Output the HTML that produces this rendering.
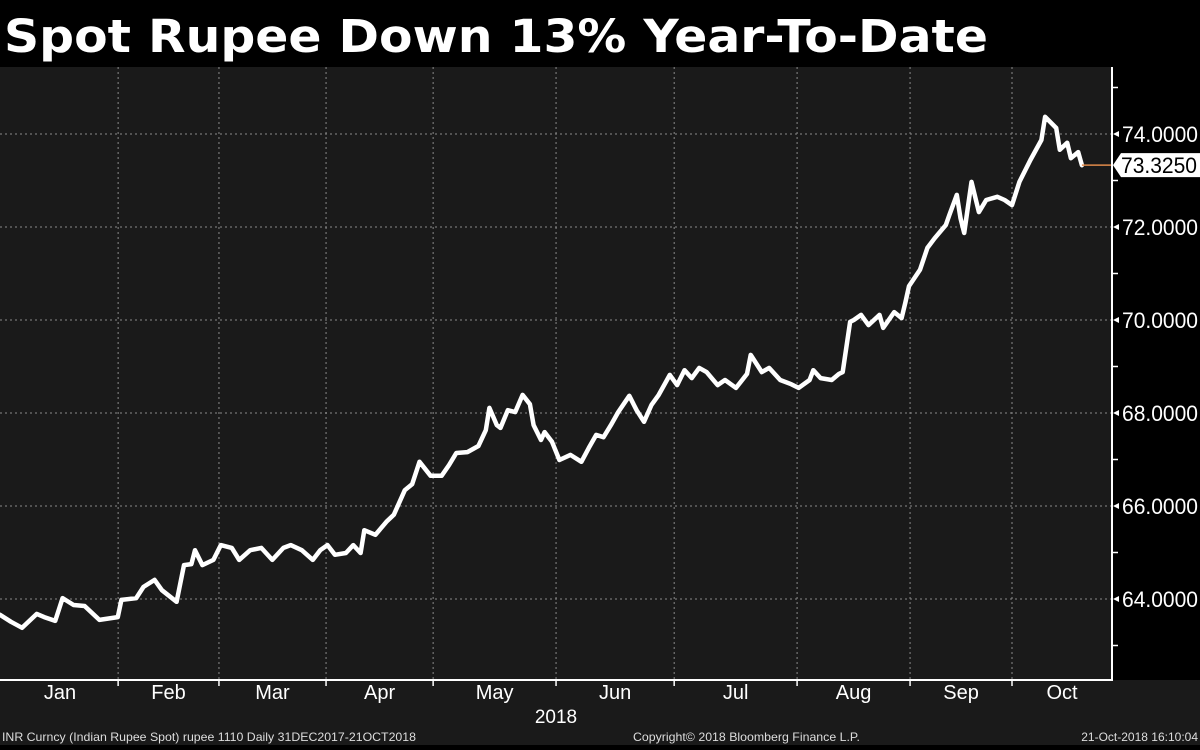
<!DOCTYPE html>
<html><head><meta charset="utf-8"><style>
html,body{margin:0;padding:0;background:#000;}
body{width:1200px;height:745px;overflow:hidden;font-family:"Liberation Sans","DejaVu Sans",sans-serif;}
</style></head><body>
<svg id="chart" width="1200" height="745" xmlns="http://www.w3.org/2000/svg">
<rect x="0" y="0" width="1200" height="67" fill="#000"/>
<text x="4" y="52" fill="#fff" font-family="'DejaVu Sans',sans-serif" font-weight="bold" font-size="45" textLength="984" lengthAdjust="spacingAndGlyphs">Spot Rupee Down 13% Year-To-Date</text>
<rect x="0" y="67" width="1112" height="613" fill="#1a1a1a"/>
<rect x="1112" y="67" width="88" height="613" fill="#000"/>
<rect x="0" y="680" width="1200" height="65" fill="#1a1a1a"/>
<g id="grid"></g><g id="series"></g><g id="axes"></g>
<text x="556" y="723" fill="#fff" font-size="19" text-anchor="middle">2018</text>
<text x="2" y="741" fill="#ddd" font-size="12" textLength="414" lengthAdjust="spacingAndGlyphs">INR Curncy (Indian Rupee Spot) rupee 1110  Daily 31DEC2017-21OCT2018</text>
<text x="633" y="741" fill="#ddd" font-size="12" textLength="227" lengthAdjust="spacingAndGlyphs">Copyright© 2018 Bloomberg Finance L.P.</text>
<text x="1198" y="741" fill="#ddd" font-size="12" text-anchor="end">21-Oct-2018 16:10:04</text>
</svg>
<script>
const days=[0,3,6,10,12,15,17,20,23,27,32,33,37,39,42,44,48,50,52,53,55,58,60,63,65,68,71,74,77,79,82,85,87,89,91,94,96,98,99,102,105,107,110,112,114,117,120,122,124,127,130,132,133,135,136,138,140,142,144,145,147,148,150,152,155,158,160,162,164,166,168,171,173,175,177,179,182,184,186,188,190,192,195,197,200,203,204,207,209,212,215,217,220,221,223,226,228,229,231,232,234,236,239,240,243,245,246,247,250,252,254,257,258,260,261,262,264,266,268,271,273,275,277,280,283,284,287,288,290,291,293,294];
const rates=[63.66,63.51,63.38,63.68,63.61,63.53,64.02,63.87,63.85,63.55,63.61,63.98,64.02,64.26,64.41,64.19,63.94,64.73,64.75,65.05,64.73,64.84,65.16,65.10,64.84,65.05,65.10,64.84,65.10,65.16,65.05,64.84,65.05,65.16,64.95,64.99,65.16,64.99,65.48,65.38,65.66,65.81,66.34,66.47,66.95,66.65,66.65,66.88,67.14,67.16,67.29,67.63,68.11,67.74,67.68,68.06,68.02,68.39,68.19,67.74,67.42,67.59,67.38,66.99,67.10,66.95,67.25,67.53,67.48,67.74,68.02,68.37,68.06,67.81,68.17,68.39,68.82,68.60,68.92,68.75,68.97,68.88,68.60,68.71,68.54,68.84,69.25,68.88,68.97,68.71,68.62,68.54,68.71,68.92,68.75,68.71,68.84,68.88,69.96,70.00,70.11,69.89,70.11,69.83,70.17,70.04,70.37,70.73,71.08,71.55,71.76,72.04,72.26,72.69,72.19,71.87,72.97,72.32,72.58,72.65,72.58,72.47,72.97,73.44,73.87,74.37,74.13,73.66,73.81,73.48,73.61,73.33];
const monthLabels=["Jan","Feb","Mar","Apr","May","Jun","Jul","Aug","Sep","Oct"];
const monthBounds=[0,32.1,59.5,88.6,117.7,151.1,183.2,216.6,247.3,275.0,302.2];
const yTicks=[64,66,68,70,72,74];
const yMinor=[63,65,67,69,71,73,75];
const lastValue="73.3250";
const NS="http://www.w3.org/2000/svg";
const X=d=>d*3.68;
const Y=v=>134+(74-v)*46.5;
function mk(tag,attrs,parent){const e=document.createElementNS(NS,tag);for(const k in attrs)e.setAttribute(k,attrs[k]);parent.appendChild(e);return e;}
const grid=document.getElementById('grid'),axes=document.getElementById('axes'),series=document.getElementById('series');
yTicks.forEach(v=>{
 const l=mk('line',{x1:0,x2:1112,y1:Y(v),y2:Y(v),stroke:'#8a8a8a','stroke-width':1,'stroke-dasharray':'2,3'},grid);
 
 
 const t=mk('text',{x:1122,y:Y(v)+8,fill:'#fff','font-size':22,textLength:76,lengthAdjust:'spacingAndGlyphs'},axes);t.textContent=v.toFixed(4);
 
 
 const p=mk('path',{d:`M1113 ${Y(v)} l6 -3 v6 z`,fill:'#fff'},axes);
 
 
});
yMinor.forEach(v=>{
 const l=mk('line',{x1:1112,x2:1118,y1:Y(v),y2:Y(v),stroke:'#fff','stroke-width':1.5},axes);
 
 
});
for(let i=1;i<monthBounds.length-1;i++){
 const x=X(monthBounds[i]);
 const l=mk('line',{x1:x,x2:x,y1:67,y2:680,stroke:'#8a8a8a','stroke-width':1,'stroke-dasharray':'2,3'},grid);
 
 
 const t=mk('line',{x1:x,x2:x,y1:680,y2:686,stroke:'#fff','stroke-width':1.5},axes);
 
 
}
monthLabels.forEach((m,i)=>{
 const cx=i==0?60:(X(monthBounds[i])+X(monthBounds[i+1]))/2;
 const t=mk('text',{x:cx,y:699,fill:'#fff','font-size':20,'text-anchor':'middle'},axes);t.textContent=m;
 
 
});
const xa=mk('line',{x1:0,x2:1113,y1:680,y2:680,stroke:'#fff','stroke-width':2},axes);


const ya=mk('line',{x1:1112,x2:1112,y1:67,y2:680,stroke:'#fff','stroke-width':2},axes);


const pts=days.map((d,i)=>X(d).toFixed(1)+','+Y(rates[i]).toFixed(1)).join(' ');
const line=mk('polyline',{points:pts,fill:'none',stroke:'#fff','stroke-width':4.5,'stroke-linejoin':'round','stroke-linecap':'round'},series);


const lv=rates[rates.length-1],ly=Y(lv);
const ol=mk('line',{x1:X(days[days.length-1]),x2:1112,y1:ly,y2:ly,stroke:'#e08a4a','stroke-width':1.5},series);


const box=mk('path',{d:`M1113 ${ly} l8 -12 h79 v24 h-79 z`,fill:'#fff'},axes);


const bt=mk('text',{x:1121,y:ly+8,fill:'#000','font-size':22,textLength:76,lengthAdjust:'spacingAndGlyphs'},axes);bt.textContent=lastValue;


</script>
</body></html>
